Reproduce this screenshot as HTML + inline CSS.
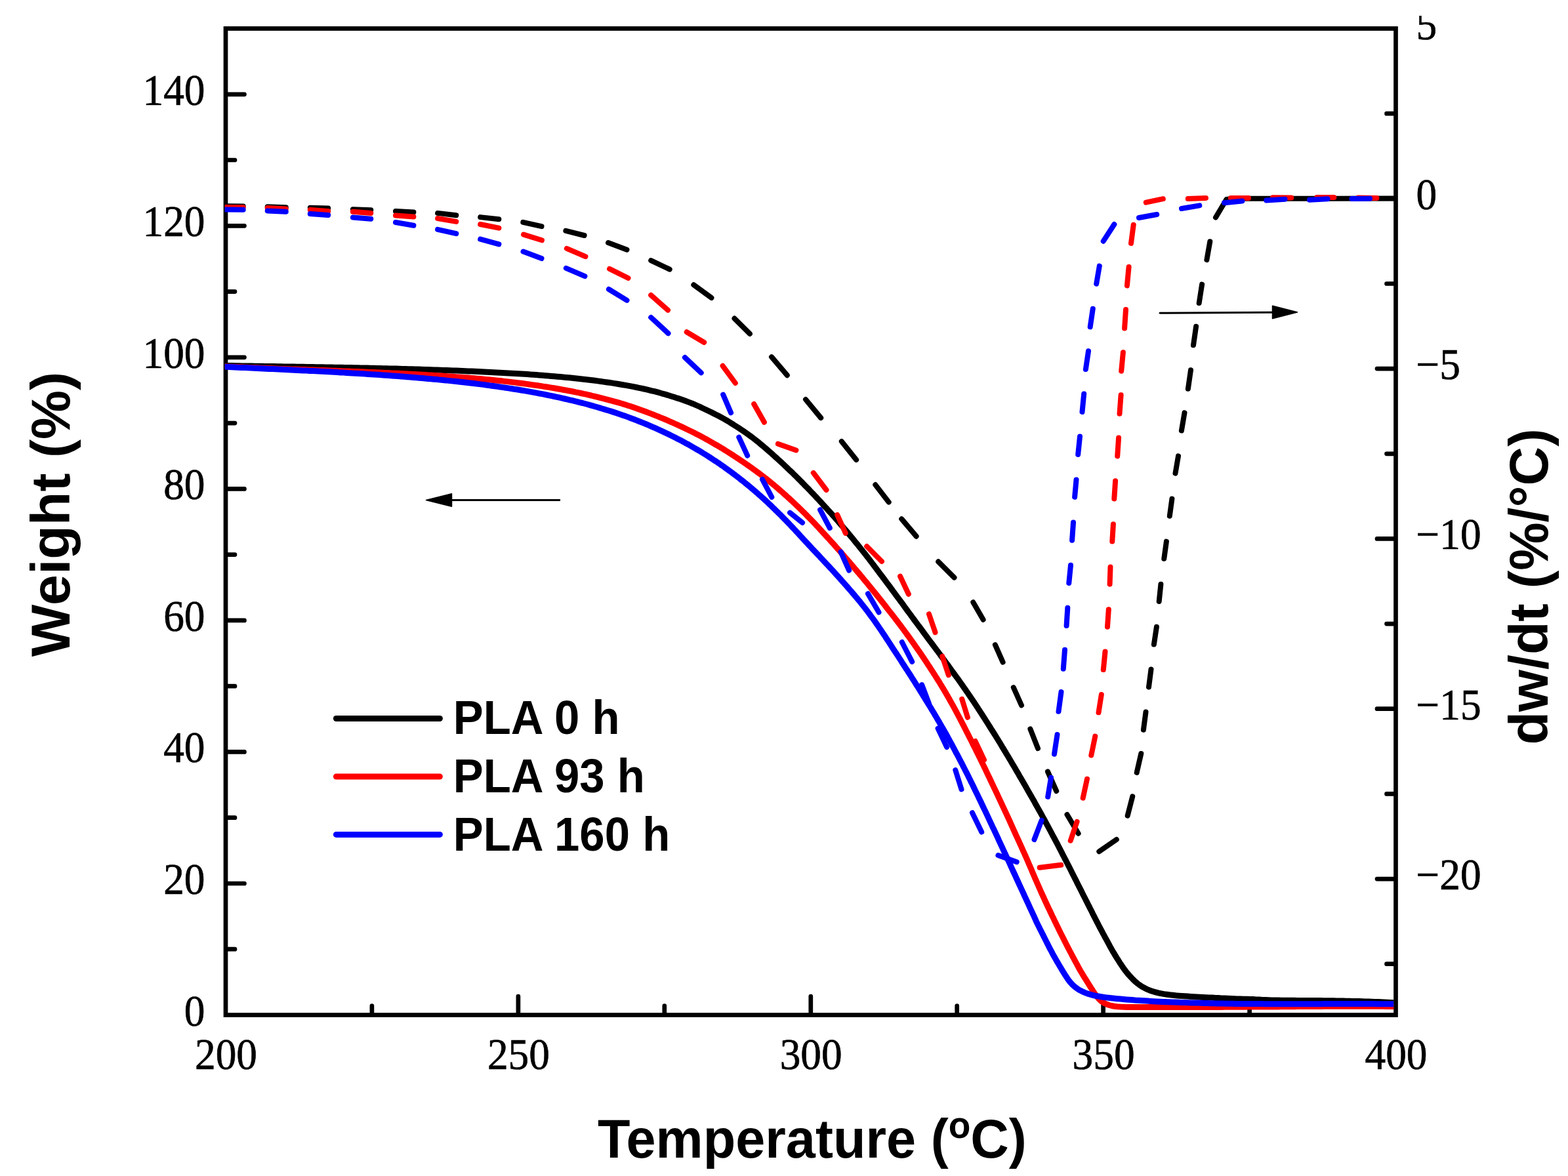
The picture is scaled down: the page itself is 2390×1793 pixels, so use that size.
<!DOCTYPE html>
<html lang="en"><head><meta charset="utf-8"><title>TGA and DTG curves of PLA</title>
<style>html,body{margin:0;padding:0;background:#fff}svg{display:block}.tk{font-family:"Liberation Serif","DejaVu Serif",serif;font-size:66.7px;fill:#000;stroke:#000;stroke-width:0.7px}.ti{font-family:"Liberation Sans","DejaVu Sans",sans-serif;font-weight:bold;font-size:83.3px;fill:#000}.lg{font-family:"Liberation Sans","DejaVu Sans",sans-serif;font-weight:bold;font-size:72.0px;fill:#000}</style></head><body>
<svg xmlns="http://www.w3.org/2000/svg" width="2390" height="1793" viewBox="0 0 2390 1793">
<defs><clipPath id="pc"><rect x="342.6" y="0" width="1781.7" height="1793"/></clipPath>
<clipPath id="tc"><rect x="0" y="24.0" width="2390" height="1793"/></clipPath></defs>
<rect x="0" y="0" width="2390" height="1793" fill="#fff"/>
<g stroke="#000" fill="none" stroke-width="6.7" stroke-linecap="round">
<rect x="344.0" y="43.5" width="1783.5" height="1504.0" stroke-linejoin="miter"/>
<path d="M345.0 1447.2h13.0M345.0 1347.0h27.5M345.0 1246.7h13.0M345.0 1146.4h27.5M345.0 1046.2h13.0M345.0 945.9h27.5M345.0 845.6h13.0M345.0 745.4h27.5M345.0 645.1h13.0M345.0 544.8h27.5M345.0 444.6h13.0M345.0 344.3h27.5M345.0 244.0h13.0M345.0 143.8h27.5M2126.5 173.2h-13.0M2126.5 302.8h-27.5M2126.5 432.5h-13.0M2126.5 562.1h-27.5M2126.5 691.8h-13.0M2126.5 821.4h-27.5M2126.5 951.1h-13.0M2126.5 1080.7h-27.5M2126.5 1210.4h-13.0M2126.5 1340.1h-27.5M2126.5 1469.7h-13.0M566.9 1546.5v-13.0M789.9 1546.5v-27.5M1012.8 1546.5v-13.0M1235.8 1546.5v-27.5M1458.7 1546.5v-13.0M1681.6 1546.5v-27.5M1904.6 1546.5v-13.0"/>
</g>
<g clip-path="url(#pc)" fill="none" stroke-linecap="round" stroke-linejoin="round">
<path stroke="#000" stroke-width="9" d="M344.0 557.5 L349.1 557.6 L354.1 557.6 L359.1 557.7 L364.0 557.8 L368.9 557.9 L373.8 558.0 L378.7 558.0 L383.6 558.1 L388.5 558.2 L393.4 558.3 L398.4 558.3 L403.3 558.4 L408.2 558.5 L413.1 558.6 L418.0 558.6 L422.9 558.7 L427.8 558.8 L432.7 558.9 L437.6 558.9 L442.5 559.0 L447.4 559.1 L452.3 559.2 L457.3 559.3 L462.2 559.3 L467.1 559.4 L472.0 559.5 L476.9 559.6 L481.8 559.7 L486.7 559.7 L491.6 559.8 L496.5 559.9 L501.4 560.0 L506.3 560.1 L511.2 560.2 L516.1 560.3 L521.0 560.3 L525.8 560.4 L530.7 560.5 L535.6 560.6 L540.5 560.7 L545.4 560.8 L550.3 560.9 L555.1 561.0 L560.0 561.1 L564.9 561.2 L569.8 561.3 L574.6 561.4 L579.5 561.5 L584.4 561.7 L589.2 561.8 L594.1 561.9 L598.9 562.0 L603.8 562.1 L608.6 562.3 L613.5 562.4 L618.3 562.5 L623.2 562.7 L628.0 562.8 L632.8 562.9 L637.7 563.1 L642.5 563.2 L647.3 563.4 L652.1 563.5 L656.9 563.7 L661.7 563.9 L666.5 564.0 L671.3 564.2 L676.1 564.4 L680.9 564.5 L685.7 564.7 L690.5 564.9 L695.2 565.1 L700.0 565.3 L704.7 565.5 L709.5 565.7 L714.3 565.9 L719.0 566.1 L723.8 566.3 L728.5 566.5 L733.3 566.7 L738.0 567.0 L742.7 567.2 L747.5 567.4 L752.2 567.7 L756.9 567.9 L761.6 568.2 L766.3 568.4 L771.0 568.7 L775.6 568.9 L780.3 569.2 L785.0 569.5 L789.7 569.7 L794.3 570.0 L799.0 570.3 L803.6 570.6 L808.3 570.9 L812.9 571.2 L817.5 571.6 L822.0 571.9 L826.6 572.3 L831.2 572.7 L835.7 573.0 L840.3 573.4 L844.8 573.8 L849.3 574.2 L853.8 574.6 L858.4 575.0 L862.9 575.4 L867.3 575.8 L871.8 576.3 L876.3 576.7 L880.7 577.2 L885.1 577.7 L889.5 578.2 L893.9 578.7 L898.3 579.2 L902.7 579.8 L907.0 580.3 L911.3 580.9 L915.6 581.5 L919.9 582.1 L924.2 582.7 L928.4 583.3 L932.6 583.9 L936.9 584.6 L941.0 585.3 L945.2 586.0 L949.4 586.7 L953.5 587.4 L957.6 588.1 L961.7 588.9 L965.7 589.7 L969.8 590.5 L973.8 591.3 L977.8 592.2 L981.7 593.0 L985.7 593.9 L989.6 594.8 L993.4 595.8 L997.3 596.7 L1001.1 597.7 L1004.9 598.7 L1008.6 599.8 L1012.4 600.8 L1016.0 601.9 L1019.7 603.0 L1023.4 604.2 L1027.0 605.3 L1030.6 606.5 L1034.2 607.6 L1037.8 608.8 L1041.3 610.0 L1044.8 611.3 L1048.3 612.6 L1051.7 613.9 L1055.1 615.2 L1058.5 616.6 L1061.7 618.0 L1065.0 619.5 L1068.2 620.9 L1071.4 622.5 L1074.6 624.0 L1077.8 625.5 L1080.9 627.0 L1084.1 628.6 L1087.2 630.1 L1090.4 631.7 L1093.5 633.2 L1096.5 634.8 L1099.6 636.5 L1102.6 638.1 L1105.6 639.8 L1108.5 641.5 L1111.4 643.3 L1114.3 645.1 L1117.1 646.9 L1120.0 648.7 L1122.8 650.5 L1125.6 652.3 L1128.4 654.1 L1131.2 656.0 L1133.9 657.8 L1136.7 659.7 L1139.4 661.6 L1142.1 663.6 L1144.7 665.5 L1147.4 667.5 L1150.0 669.5 L1152.5 671.5 L1155.1 673.6 L1157.6 675.6 L1160.1 677.7 L1162.6 679.8 L1165.1 681.9 L1167.6 684.0 L1170.0 686.1 L1172.4 688.3 L1174.9 690.4 L1177.3 692.5 L1179.7 694.7 L1182.1 696.9 L1184.5 699.0 L1186.9 701.2 L1189.3 703.4 L1191.6 705.6 L1194.0 707.8 L1196.3 710.0 L1198.7 712.2 L1201.0 714.5 L1203.3 716.7 L1205.7 718.9 L1208.0 721.1 L1210.3 723.4 L1212.6 725.6 L1214.9 727.9 L1217.2 730.2 L1219.4 732.4 L1221.7 734.7 L1224.0 737.0 L1226.2 739.3 L1228.4 741.6 L1230.7 743.9 L1232.9 746.2 L1235.1 748.5 L1237.3 750.8 L1239.6 753.2 L1241.8 755.5 L1244.0 757.8 L1246.1 760.2 L1248.3 762.5 L1250.5 764.9 L1252.7 767.2 L1254.8 769.6 L1257.0 772.0 L1259.2 774.3 L1261.3 776.7 L1263.5 779.1 L1265.6 781.4 L1267.8 783.8 L1269.9 786.2 L1272.0 788.6 L1274.1 791.0 L1276.2 793.4 L1278.3 795.9 L1280.4 798.3 L1282.5 800.7 L1284.6 803.2 L1286.6 805.6 L1288.7 808.0 L1290.8 810.5 L1292.8 812.9 L1294.9 815.4 L1296.9 817.9 L1299.0 820.3 L1301.0 822.8 L1303.0 825.3 L1305.1 827.8 L1307.1 830.2 L1309.1 832.7 L1311.1 835.2 L1313.1 837.7 L1315.1 840.2 L1317.1 842.7 L1319.1 845.2 L1321.0 847.8 L1323.0 850.3 L1325.0 852.8 L1326.9 855.4 L1328.8 857.9 L1330.8 860.5 L1332.7 863.0 L1334.6 865.6 L1336.6 868.2 L1338.5 870.7 L1340.4 873.3 L1342.3 875.9 L1344.3 878.4 L1346.2 881.0 L1348.1 883.5 L1350.0 886.1 L1351.9 888.7 L1353.9 891.3 L1355.8 893.8 L1357.7 896.4 L1359.6 899.0 L1361.5 901.6 L1363.4 904.2 L1365.3 906.7 L1367.2 909.3 L1369.1 911.9 L1371.0 914.4 L1372.9 917.0 L1374.9 919.6 L1376.8 922.2 L1378.6 924.8 L1380.5 927.4 L1382.4 930.0 L1384.3 932.6 L1386.2 935.1 L1388.1 937.7 L1390.0 940.3 L1391.9 942.9 L1393.8 945.5 L1395.7 948.1 L1397.6 950.6 L1399.5 953.2 L1401.5 955.8 L1403.4 958.3 L1405.3 960.9 L1407.2 963.5 L1409.1 966.1 L1411.0 968.7 L1412.9 971.2 L1414.8 973.8 L1416.7 976.4 L1418.6 978.9 L1420.6 981.5 L1422.5 984.1 L1424.4 986.6 L1426.3 989.2 L1428.2 991.8 L1430.2 994.3 L1432.1 996.9 L1434.0 999.5 L1435.9 1002.1 L1437.8 1004.7 L1439.7 1007.2 L1441.6 1009.8 L1443.5 1012.4 L1445.4 1015.0 L1447.3 1017.6 L1449.1 1020.2 L1451.0 1022.8 L1452.9 1025.4 L1454.8 1028.0 L1456.7 1030.6 L1458.6 1033.1 L1460.5 1035.7 L1462.3 1038.3 L1464.2 1041.0 L1466.1 1043.6 L1467.9 1046.2 L1469.7 1048.9 L1471.6 1051.5 L1473.4 1054.2 L1475.2 1056.8 L1477.0 1059.5 L1478.8 1062.1 L1480.6 1064.8 L1482.4 1067.4 L1484.2 1070.1 L1486.0 1072.8 L1487.8 1075.5 L1489.6 1078.2 L1491.3 1080.9 L1493.1 1083.6 L1494.8 1086.3 L1496.6 1089.0 L1498.3 1091.7 L1500.1 1094.4 L1501.8 1097.1 L1503.5 1099.8 L1505.3 1102.6 L1507.0 1105.3 L1508.7 1108.0 L1510.4 1110.8 L1512.1 1113.5 L1513.9 1116.3 L1515.6 1119.0 L1517.3 1121.7 L1519.0 1124.5 L1520.7 1127.2 L1522.4 1130.0 L1524.1 1132.7 L1525.8 1135.5 L1527.4 1138.3 L1529.1 1141.0 L1530.8 1143.8 L1532.5 1146.6 L1534.1 1149.4 L1535.8 1152.1 L1537.5 1154.9 L1539.1 1157.7 L1540.8 1160.5 L1542.4 1163.3 L1544.1 1166.1 L1545.7 1168.8 L1547.4 1171.6 L1549.0 1174.5 L1550.7 1177.3 L1552.3 1180.1 L1553.9 1182.9 L1555.5 1185.7 L1557.2 1188.5 L1558.8 1191.3 L1560.4 1194.1 L1562.1 1196.9 L1563.7 1199.7 L1565.3 1202.6 L1566.9 1205.4 L1568.5 1208.2 L1570.1 1211.0 L1571.7 1213.8 L1573.4 1216.7 L1575.0 1219.5 L1576.6 1222.3 L1578.1 1225.2 L1579.7 1228.0 L1581.3 1230.9 L1582.9 1233.7 L1584.5 1236.5 L1586.1 1239.4 L1587.7 1242.2 L1589.2 1245.1 L1590.8 1248.0 L1592.4 1250.8 L1593.9 1253.7 L1595.5 1256.6 L1597.0 1259.4 L1598.6 1262.3 L1600.1 1265.2 L1601.7 1268.1 L1603.2 1271.0 L1604.7 1273.9 L1606.3 1276.7 L1607.8 1279.6 L1609.3 1282.5 L1610.9 1285.4 L1612.4 1288.3 L1613.9 1291.2 L1615.4 1294.1 L1616.9 1297.0 L1618.4 1299.9 L1619.9 1302.9 L1621.4 1305.8 L1622.9 1308.7 L1624.4 1311.6 L1625.9 1314.5 L1627.4 1317.5 L1628.9 1320.4 L1630.4 1323.3 L1631.9 1326.2 L1633.4 1329.2 L1634.8 1332.1 L1636.3 1335.0 L1637.8 1338.0 L1639.3 1340.9 L1640.8 1343.8 L1642.2 1346.8 L1643.7 1349.7 L1645.2 1352.6 L1646.7 1355.6 L1648.2 1358.5 L1649.6 1361.4 L1651.1 1364.4 L1652.6 1367.3 L1654.1 1370.2 L1655.6 1373.2 L1657.1 1376.1 L1658.5 1379.0 L1660.0 1381.9 L1661.5 1384.9 L1663.0 1387.8 L1664.5 1390.8 L1665.9 1393.7 L1667.4 1396.6 L1668.9 1399.6 L1670.4 1402.5 L1671.9 1405.4 L1673.4 1408.3 L1674.9 1411.2 L1676.4 1414.1 L1677.9 1417.0 L1679.5 1419.9 L1681.0 1422.8 L1682.6 1425.7 L1684.1 1428.5 L1685.7 1431.4 L1687.3 1434.2 L1688.8 1437.1 L1690.4 1440.0 L1691.9 1442.9 L1693.5 1445.7 L1695.1 1448.6 L1696.7 1451.4 L1698.4 1454.2 L1700.0 1456.9 L1701.7 1459.7 L1703.5 1462.4 L1705.2 1465.2 L1706.9 1467.9 L1708.7 1470.6 L1710.5 1473.3 L1712.3 1475.9 L1714.2 1478.5 L1716.1 1481.0 L1718.1 1483.5 L1720.2 1486.0 L1722.3 1488.4 L1724.5 1490.7 L1726.7 1493.0 L1729.0 1495.3 L1731.4 1497.4 L1733.9 1499.5 L1736.6 1501.5 L1739.3 1503.4 L1742.2 1505.1 L1745.3 1506.7 L1748.4 1508.3 L1751.8 1509.7 L1755.2 1510.9 L1758.8 1512.1 L1762.6 1513.1 L1766.5 1514.1 L1770.5 1514.9 L1774.6 1515.6 L1778.9 1516.2 L1783.2 1516.8 L1787.6 1517.3 L1792.0 1517.8 L1796.6 1518.2 L1801.2 1518.5 L1805.8 1518.8 L1810.5 1519.1 L1815.1 1519.4 L1819.7 1519.7 L1824.4 1520.0 L1829.1 1520.2 L1833.8 1520.5 L1838.5 1520.7 L1843.3 1520.9 L1848.0 1521.1 L1852.7 1521.4 L1857.4 1521.6 L1862.1 1521.9 L1866.8 1522.1 L1871.5 1522.3 L1876.3 1522.6 L1881.0 1522.8 L1885.8 1523.0 L1890.6 1523.1 L1895.5 1523.3 L1900.3 1523.3 L1905.2 1523.5 L1910.0 1523.6 L1914.7 1523.9 L1919.4 1524.1 L1924.1 1524.4 L1928.9 1524.6 L1933.7 1524.8 L1938.5 1524.9 L1943.4 1525.0 L1948.3 1525.1 L1953.2 1525.2 L1958.1 1525.2 L1963.1 1525.2 L1968.0 1525.3 L1973.0 1525.3 L1977.9 1525.4 L1982.9 1525.4 L1987.9 1525.4 L1992.8 1525.5 L1997.8 1525.5 L2002.7 1525.5 L2007.7 1525.6 L2012.6 1525.6 L2017.6 1525.7 L2022.5 1525.7 L2027.4 1525.8 L2032.3 1525.8 L2037.3 1525.9 L2042.2 1526.0 L2047.1 1526.1 L2052.0 1526.2 L2056.8 1526.3 L2061.7 1526.4 L2066.6 1526.5 L2071.4 1526.6 L2076.2 1526.8 L2081.1 1526.9 L2085.9 1527.1 L2090.7 1527.2 L2095.5 1527.4 L2100.2 1527.6 L2105.0 1527.8 L2109.7 1528.0 L2114.4 1528.2 L2118.9 1528.5 L2123.3 1528.7 L2127.5 1528.9"/>
<path stroke="#f00" stroke-width="9" d="M344.0 558.7 L348.8 558.9 L353.6 559.2 L358.4 559.4 L363.2 559.6 L367.9 559.8 L372.7 560.0 L377.4 560.2 L382.2 560.4 L386.9 560.6 L391.7 560.8 L396.4 561.0 L401.2 561.2 L406.0 561.4 L410.7 561.6 L415.5 561.8 L420.3 562.0 L425.1 562.2 L429.9 562.4 L434.6 562.5 L439.4 562.7 L444.2 562.9 L449.0 563.1 L453.8 563.2 L458.6 563.4 L463.4 563.6 L468.2 563.8 L473.0 563.9 L477.7 564.1 L482.5 564.3 L487.3 564.5 L492.1 564.6 L496.9 564.8 L501.7 565.0 L506.5 565.2 L511.3 565.3 L516.1 565.5 L520.8 565.7 L525.6 565.9 L530.4 566.1 L535.2 566.2 L540.0 566.4 L544.7 566.6 L549.5 566.8 L554.3 567.0 L559.1 567.2 L563.8 567.4 L568.6 567.6 L573.3 567.8 L578.1 568.0 L582.8 568.2 L587.6 568.4 L592.3 568.6 L597.0 568.9 L601.8 569.1 L606.5 569.3 L611.2 569.5 L615.9 569.8 L620.6 570.0 L625.4 570.3 L630.0 570.5 L634.7 570.8 L639.4 571.0 L644.1 571.3 L648.8 571.6 L653.4 571.9 L658.1 572.1 L662.8 572.4 L667.4 572.7 L672.0 573.0 L676.7 573.3 L681.3 573.7 L685.9 574.0 L690.5 574.3 L695.1 574.7 L699.7 575.0 L704.3 575.3 L708.8 575.7 L713.4 576.1 L718.0 576.4 L722.5 576.8 L727.0 577.2 L731.6 577.6 L736.1 578.0 L740.6 578.4 L745.1 578.8 L749.6 579.3 L754.0 579.7 L758.5 580.2 L762.9 580.6 L767.4 581.1 L771.8 581.6 L776.2 582.1 L780.5 582.6 L784.9 583.1 L789.3 583.7 L793.6 584.2 L797.9 584.8 L802.2 585.4 L806.5 586.0 L810.8 586.6 L815.1 587.2 L819.3 587.8 L823.6 588.4 L827.8 589.1 L832.0 589.7 L836.2 590.4 L840.4 591.1 L844.5 591.8 L848.7 592.5 L852.8 593.2 L856.9 594.0 L861.0 594.7 L865.1 595.5 L869.2 596.2 L873.2 597.0 L877.2 597.9 L881.2 598.7 L885.2 599.5 L889.2 600.4 L893.2 601.2 L897.1 602.1 L901.0 603.0 L904.9 604.0 L908.8 604.9 L912.6 605.9 L916.5 606.9 L920.3 607.8 L924.1 608.8 L927.9 609.8 L931.7 610.8 L935.4 611.9 L939.2 612.9 L942.9 613.9 L946.7 615.0 L950.3 616.1 L954.0 617.2 L957.6 618.4 L961.2 619.6 L964.8 620.8 L968.3 622.0 L971.8 623.2 L975.3 624.5 L978.8 625.7 L982.3 627.0 L985.7 628.3 L989.2 629.6 L992.6 630.9 L996.0 632.2 L999.4 633.6 L1002.8 634.9 L1006.1 636.3 L1009.5 637.7 L1012.8 639.0 L1016.1 640.4 L1019.4 641.9 L1022.7 643.3 L1026.0 644.7 L1029.2 646.2 L1032.5 647.7 L1035.7 649.2 L1038.9 650.6 L1042.1 652.1 L1045.3 653.7 L1048.5 655.2 L1051.6 656.7 L1054.8 658.2 L1057.9 659.8 L1061.0 661.4 L1064.1 663.0 L1067.2 664.6 L1070.2 666.2 L1073.2 667.9 L1076.2 669.5 L1079.2 671.2 L1082.2 672.9 L1085.2 674.6 L1088.2 676.3 L1091.1 678.0 L1094.0 679.7 L1097.0 681.4 L1099.9 683.2 L1102.8 684.9 L1105.6 686.7 L1108.5 688.5 L1111.3 690.3 L1114.2 692.1 L1117.0 693.9 L1119.8 695.7 L1122.6 697.6 L1125.4 699.4 L1128.1 701.3 L1130.9 703.1 L1133.7 705.0 L1136.4 706.9 L1139.1 708.8 L1141.9 710.7 L1144.6 712.6 L1147.2 714.5 L1149.9 716.5 L1152.6 718.4 L1155.2 720.4 L1157.9 722.3 L1160.5 724.3 L1163.1 726.3 L1165.7 728.3 L1168.3 730.3 L1170.8 732.4 L1173.4 734.4 L1175.9 736.5 L1178.4 738.5 L1180.9 740.6 L1183.4 742.7 L1185.9 744.9 L1188.3 747.0 L1190.8 749.1 L1193.2 751.2 L1195.6 753.4 L1198.0 755.5 L1200.4 757.7 L1202.8 759.9 L1205.2 762.1 L1207.6 764.3 L1209.9 766.5 L1212.3 768.7 L1214.6 770.9 L1216.9 773.1 L1219.2 775.4 L1221.5 777.6 L1223.8 779.9 L1226.1 782.1 L1228.4 784.4 L1230.6 786.7 L1232.9 789.0 L1235.1 791.3 L1237.4 793.6 L1239.6 795.9 L1241.8 798.2 L1244.0 800.6 L1246.2 802.9 L1248.4 805.3 L1250.5 807.6 L1252.7 810.0 L1254.8 812.4 L1257.0 814.7 L1259.2 817.1 L1261.3 819.4 L1263.5 821.8 L1265.7 824.2 L1267.8 826.6 L1270.0 828.9 L1272.1 831.3 L1274.2 833.7 L1276.3 836.1 L1278.5 838.5 L1280.6 840.9 L1282.7 843.3 L1284.8 845.7 L1286.9 848.2 L1289.0 850.6 L1291.1 853.0 L1293.2 855.4 L1295.3 857.8 L1297.3 860.3 L1299.4 862.7 L1301.5 865.2 L1303.6 867.6 L1305.6 870.0 L1307.7 872.5 L1309.8 874.9 L1311.8 877.4 L1313.9 879.8 L1315.9 882.3 L1318.0 884.8 L1320.0 887.2 L1322.1 889.7 L1324.1 892.2 L1326.1 894.6 L1328.1 897.1 L1330.1 899.6 L1332.2 902.1 L1334.2 904.6 L1336.2 907.1 L1338.2 909.6 L1340.2 912.1 L1342.2 914.6 L1344.2 917.1 L1346.2 919.6 L1348.1 922.1 L1350.1 924.6 L1352.1 927.2 L1354.0 929.7 L1356.0 932.2 L1358.0 934.7 L1360.0 937.3 L1361.9 939.8 L1363.9 942.3 L1365.8 944.9 L1367.8 947.4 L1369.7 950.0 L1371.7 952.5 L1373.6 955.1 L1375.5 957.6 L1377.4 960.2 L1379.3 962.8 L1381.2 965.4 L1383.1 968.0 L1385.0 970.5 L1386.9 973.1 L1388.8 975.8 L1390.6 978.4 L1392.5 981.0 L1394.3 983.6 L1396.2 986.3 L1398.0 988.9 L1399.8 991.5 L1401.7 994.2 L1403.5 996.8 L1405.3 999.5 L1407.1 1002.1 L1408.9 1004.8 L1410.7 1007.5 L1412.5 1010.2 L1414.2 1012.9 L1416.0 1015.6 L1417.8 1018.3 L1419.5 1021.0 L1421.3 1023.7 L1423.0 1026.4 L1424.8 1029.1 L1426.5 1031.8 L1428.2 1034.5 L1429.9 1037.3 L1431.7 1040.0 L1433.3 1042.8 L1435.0 1045.5 L1436.7 1048.3 L1438.4 1051.1 L1440.0 1053.9 L1441.7 1056.7 L1443.3 1059.5 L1444.9 1062.3 L1446.5 1065.1 L1448.1 1068.0 L1449.7 1070.8 L1451.3 1073.7 L1452.9 1076.5 L1454.5 1079.4 L1456.0 1082.2 L1457.6 1085.1 L1459.1 1088.0 L1460.6 1090.9 L1462.2 1093.8 L1463.7 1096.7 L1465.2 1099.6 L1466.7 1102.5 L1468.2 1105.4 L1469.7 1108.3 L1471.2 1111.2 L1472.7 1114.2 L1474.2 1117.1 L1475.7 1120.0 L1477.1 1123.0 L1478.6 1125.9 L1480.1 1128.8 L1481.6 1131.8 L1483.0 1134.7 L1484.5 1137.6 L1486.0 1140.6 L1487.5 1143.5 L1488.9 1146.5 L1490.4 1149.4 L1491.8 1152.4 L1493.3 1155.3 L1494.8 1158.3 L1496.2 1161.2 L1497.7 1164.2 L1499.1 1167.1 L1500.5 1170.1 L1502.0 1173.1 L1503.4 1176.1 L1504.8 1179.1 L1506.2 1182.0 L1507.7 1185.0 L1509.1 1188.0 L1510.5 1191.0 L1511.9 1194.0 L1513.3 1196.9 L1514.7 1199.9 L1516.2 1202.9 L1517.6 1205.9 L1519.0 1208.9 L1520.4 1211.9 L1521.8 1214.9 L1523.2 1217.9 L1524.6 1220.9 L1526.0 1223.9 L1527.4 1226.9 L1528.8 1229.9 L1530.2 1232.9 L1531.6 1235.9 L1533.0 1238.9 L1534.4 1241.9 L1535.8 1244.9 L1537.2 1247.9 L1538.6 1250.9 L1539.9 1253.9 L1541.3 1257.0 L1542.7 1260.0 L1544.0 1263.0 L1545.4 1266.1 L1546.8 1269.1 L1548.1 1272.1 L1549.5 1275.1 L1550.9 1278.1 L1552.3 1281.2 L1553.7 1284.2 L1555.0 1287.2 L1556.4 1290.2 L1557.8 1293.3 L1559.1 1296.3 L1560.5 1299.3 L1561.9 1302.3 L1563.2 1305.4 L1564.6 1308.4 L1565.9 1311.5 L1567.2 1314.5 L1568.5 1317.6 L1569.9 1320.7 L1571.2 1323.8 L1572.5 1326.8 L1573.8 1329.9 L1575.1 1333.0 L1576.4 1336.1 L1577.7 1339.1 L1579.1 1342.2 L1580.4 1345.2 L1581.8 1348.3 L1583.1 1351.3 L1584.4 1354.4 L1585.8 1357.4 L1587.1 1360.5 L1588.5 1363.5 L1589.9 1366.5 L1591.3 1369.5 L1592.6 1372.5 L1594.0 1375.5 L1595.4 1378.5 L1596.8 1381.5 L1598.2 1384.5 L1599.7 1387.5 L1601.1 1390.5 L1602.5 1393.5 L1603.9 1396.5 L1605.4 1399.4 L1606.8 1402.4 L1608.2 1405.4 L1609.7 1408.3 L1611.1 1411.3 L1612.6 1414.3 L1614.0 1417.2 L1615.5 1420.2 L1616.9 1423.1 L1618.4 1426.1 L1619.9 1429.0 L1621.4 1431.9 L1622.8 1434.9 L1624.3 1437.8 L1625.8 1440.7 L1627.3 1443.6 L1628.8 1446.5 L1630.3 1449.4 L1631.9 1452.3 L1633.4 1455.2 L1634.9 1458.1 L1636.5 1461.0 L1638.0 1463.9 L1639.6 1466.8 L1641.1 1469.6 L1642.7 1472.5 L1644.2 1475.4 L1645.8 1478.2 L1647.4 1481.0 L1649.1 1483.8 L1650.7 1486.6 L1652.4 1489.4 L1654.1 1492.1 L1655.9 1494.8 L1657.6 1497.6 L1659.3 1500.3 L1661.0 1503.0 L1662.7 1505.8 L1664.5 1508.5 L1666.2 1511.2 L1668.0 1513.9 L1669.8 1516.5 L1671.7 1519.1 L1673.8 1521.6 L1675.9 1523.9 L1678.3 1526.1 L1681.0 1528.1 L1683.9 1529.8 L1687.1 1531.3 L1690.7 1532.5 L1694.5 1533.5 L1698.6 1534.2 L1703.0 1534.7 L1707.5 1535.1 L1712.3 1535.3 L1717.1 1535.5 L1722.1 1535.5 L1727.0 1535.6 L1732.0 1535.6 L1737.0 1535.6 L1742.0 1535.6 L1747.0 1535.6 L1752.1 1535.5 L1757.1 1535.5 L1762.1 1535.5 L1767.1 1535.5 L1772.1 1535.5 L1777.1 1535.5 L1782.1 1535.5 L1787.2 1535.4 L1792.2 1535.4 L1797.2 1535.4 L1802.2 1535.4 L1807.2 1535.4 L1812.2 1535.4 L1817.2 1535.4 L1822.2 1535.4 L1827.2 1535.4 L1832.2 1535.4 L1837.2 1535.4 L1842.2 1535.4 L1847.2 1535.4 L1852.2 1535.4 L1857.2 1535.4 L1862.2 1535.4 L1867.3 1535.3 L1872.3 1535.3 L1877.3 1535.3 L1882.4 1535.2 L1887.4 1535.2 L1892.5 1535.2 L1897.5 1535.2 L1902.5 1535.1 L1907.5 1535.1 L1912.6 1535.1 L1917.6 1535.1 L1922.6 1535.1 L1927.6 1535.0 L1932.7 1535.0 L1937.7 1535.0 L1942.8 1534.9 L1947.8 1534.9 L1952.9 1534.8 L1957.9 1534.8 L1963.0 1534.7 L1968.0 1534.7 L1973.1 1534.7 L1978.1 1534.6 L1983.2 1534.6 L1988.2 1534.5 L1993.3 1534.5 L1998.3 1534.5 L2003.4 1534.4 L2008.4 1534.4 L2013.4 1534.4 L2018.5 1534.3 L2023.5 1534.3 L2028.5 1534.3 L2033.6 1534.3 L2038.6 1534.3 L2043.6 1534.2 L2048.6 1534.2 L2053.6 1534.2 L2058.6 1534.2 L2063.6 1534.2 L2068.6 1534.2 L2073.6 1534.2 L2078.6 1534.2 L2083.6 1534.2 L2088.6 1534.2 L2093.6 1534.3 L2098.5 1534.3 L2103.5 1534.3 L2108.5 1534.3 L2113.4 1534.4 L2118.2 1534.4 L2122.9 1534.4 L2127.5 1534.5"/>
<path stroke="#00f" stroke-width="9" d="M344.0 559.3 L348.8 559.5 L353.6 559.7 L358.3 560.0 L363.1 560.2 L367.8 560.4 L372.5 560.6 L377.3 560.8 L382.0 561.1 L386.7 561.3 L391.5 561.5 L396.2 561.7 L400.9 561.9 L405.7 562.2 L410.4 562.4 L415.1 562.6 L419.9 562.8 L424.6 563.1 L429.3 563.3 L434.1 563.5 L438.8 563.7 L443.5 564.0 L448.3 564.2 L453.0 564.4 L457.7 564.7 L462.4 564.9 L467.1 565.1 L471.8 565.4 L476.6 565.6 L481.3 565.8 L486.0 566.1 L490.7 566.3 L495.4 566.6 L500.1 566.8 L504.8 567.1 L509.5 567.3 L514.2 567.6 L518.8 567.9 L523.5 568.1 L528.2 568.4 L532.9 568.7 L537.5 569.0 L542.2 569.2 L546.9 569.5 L551.5 569.8 L556.2 570.1 L560.8 570.4 L565.4 570.7 L570.1 571.0 L574.7 571.3 L579.3 571.6 L584.0 571.9 L588.6 572.3 L593.2 572.6 L597.8 572.9 L602.4 573.3 L606.9 573.6 L611.5 574.0 L616.1 574.3 L620.7 574.7 L625.2 575.0 L629.8 575.4 L634.3 575.8 L638.9 576.2 L643.4 576.6 L647.9 577.0 L652.4 577.4 L656.9 577.8 L661.4 578.2 L665.9 578.6 L670.4 579.1 L674.9 579.5 L679.4 579.9 L683.8 580.4 L688.3 580.9 L692.7 581.3 L697.1 581.8 L701.5 582.3 L706.0 582.8 L710.4 583.3 L714.7 583.8 L719.1 584.3 L723.5 584.8 L727.9 585.4 L732.2 585.9 L736.5 586.4 L740.9 587.0 L745.2 587.6 L749.5 588.2 L753.8 588.8 L758.1 589.4 L762.3 590.0 L766.6 590.6 L770.8 591.2 L775.1 591.9 L779.3 592.5 L783.5 593.2 L787.7 593.8 L791.9 594.5 L796.0 595.2 L800.2 595.9 L804.3 596.6 L808.4 597.4 L812.5 598.1 L816.6 598.9 L820.7 599.7 L824.8 600.4 L828.8 601.2 L832.9 602.0 L836.9 602.8 L840.9 603.6 L844.9 604.5 L848.9 605.3 L852.9 606.2 L856.8 607.1 L860.7 608.0 L864.6 608.9 L868.5 609.8 L872.4 610.7 L876.3 611.7 L880.2 612.6 L884.0 613.6 L887.8 614.5 L891.6 615.5 L895.4 616.5 L899.2 617.6 L902.9 618.6 L906.7 619.7 L910.4 620.8 L914.0 621.9 L917.7 623.0 L921.4 624.1 L925.1 625.2 L928.7 626.3 L932.3 627.4 L936.0 628.6 L939.6 629.8 L943.1 631.0 L946.7 632.2 L950.2 633.4 L953.7 634.6 L957.2 635.9 L960.6 637.2 L964.1 638.5 L967.5 639.8 L970.9 641.1 L974.3 642.5 L977.7 643.8 L981.1 645.2 L984.4 646.5 L987.8 647.9 L991.1 649.3 L994.4 650.8 L997.6 652.2 L1000.9 653.7 L1004.1 655.1 L1007.4 656.6 L1010.6 658.1 L1013.8 659.6 L1017.0 661.1 L1020.1 662.6 L1023.3 664.2 L1026.4 665.7 L1029.5 667.3 L1032.6 668.9 L1035.7 670.5 L1038.8 672.1 L1041.8 673.7 L1044.8 675.4 L1047.9 677.0 L1050.9 678.7 L1053.8 680.4 L1056.8 682.1 L1059.8 683.8 L1062.7 685.5 L1065.6 687.2 L1068.5 688.9 L1071.4 690.7 L1074.3 692.5 L1077.2 694.3 L1080.0 696.1 L1082.8 697.9 L1085.6 699.7 L1088.4 701.6 L1091.2 703.4 L1094.0 705.3 L1096.7 707.1 L1099.4 709.0 L1102.2 710.9 L1104.9 712.8 L1107.6 714.8 L1110.3 716.7 L1112.9 718.6 L1115.6 720.6 L1118.2 722.6 L1120.8 724.5 L1123.4 726.5 L1126.0 728.5 L1128.6 730.6 L1131.2 732.6 L1133.7 734.6 L1136.3 736.7 L1138.8 738.7 L1141.3 740.8 L1143.8 742.9 L1146.3 745.0 L1148.8 747.1 L1151.3 749.2 L1153.7 751.3 L1156.1 753.5 L1158.6 755.6 L1161.0 757.8 L1163.4 759.9 L1165.8 762.1 L1168.1 764.3 L1170.5 766.5 L1172.8 768.7 L1175.2 770.9 L1177.5 773.2 L1179.8 775.4 L1182.1 777.7 L1184.4 779.9 L1186.7 782.2 L1189.0 784.4 L1191.2 786.7 L1193.5 789.0 L1195.7 791.3 L1198.0 793.6 L1200.2 795.9 L1202.4 798.2 L1204.6 800.5 L1206.8 802.9 L1209.0 805.2 L1211.2 807.5 L1213.4 809.9 L1215.6 812.3 L1217.8 814.6 L1219.9 817.0 L1222.1 819.3 L1224.3 821.7 L1226.4 824.0 L1228.6 826.4 L1230.8 828.7 L1233.0 831.1 L1235.2 833.4 L1237.3 835.8 L1239.5 838.1 L1241.7 840.4 L1243.9 842.8 L1246.2 845.1 L1248.4 847.4 L1250.5 849.8 L1252.7 852.1 L1254.9 854.5 L1257.1 856.8 L1259.3 859.2 L1261.5 861.5 L1263.7 863.9 L1265.8 866.2 L1268.0 868.5 L1270.2 870.9 L1272.3 873.3 L1274.5 875.7 L1276.6 878.0 L1278.8 880.4 L1280.9 882.8 L1283.0 885.2 L1285.2 887.6 L1287.3 890.0 L1289.4 892.4 L1291.5 894.8 L1293.6 897.2 L1295.7 899.6 L1297.8 902.0 L1299.9 904.5 L1302.0 906.9 L1304.0 909.4 L1306.1 911.8 L1308.2 914.3 L1310.2 916.7 L1312.2 919.2 L1314.2 921.7 L1316.2 924.2 L1318.2 926.7 L1320.1 929.3 L1322.1 931.8 L1324.0 934.4 L1325.9 937.0 L1327.8 939.6 L1329.7 942.1 L1331.6 944.7 L1333.5 947.3 L1335.3 950.0 L1337.2 952.6 L1339.0 955.2 L1340.8 957.9 L1342.6 960.5 L1344.4 963.2 L1346.2 965.9 L1348.0 968.6 L1349.8 971.3 L1351.5 974.0 L1353.3 976.6 L1355.1 979.4 L1356.8 982.1 L1358.6 984.8 L1360.3 987.5 L1362.1 990.2 L1363.9 992.9 L1365.6 995.5 L1367.4 998.2 L1369.2 1000.9 L1370.9 1003.6 L1372.7 1006.4 L1374.4 1009.1 L1376.1 1011.8 L1377.9 1014.5 L1379.6 1017.2 L1381.4 1019.9 L1383.2 1022.6 L1384.9 1025.3 L1386.7 1028.0 L1388.4 1030.7 L1390.1 1033.5 L1391.9 1036.2 L1393.6 1038.9 L1395.3 1041.6 L1397.0 1044.4 L1398.8 1047.1 L1400.5 1049.8 L1402.2 1052.6 L1403.9 1055.3 L1405.6 1058.0 L1407.3 1060.8 L1409.0 1063.5 L1410.7 1066.3 L1412.4 1069.0 L1414.1 1071.8 L1415.8 1074.6 L1417.5 1077.3 L1419.2 1080.1 L1420.8 1082.9 L1422.5 1085.6 L1424.2 1088.4 L1425.8 1091.2 L1427.5 1094.0 L1429.1 1096.8 L1430.8 1099.6 L1432.4 1102.4 L1434.0 1105.2 L1435.6 1108.0 L1437.3 1110.8 L1438.9 1113.7 L1440.5 1116.5 L1442.1 1119.3 L1443.7 1122.2 L1445.2 1125.0 L1446.8 1127.9 L1448.4 1130.8 L1449.9 1133.6 L1451.5 1136.5 L1453.0 1139.4 L1454.6 1142.3 L1456.1 1145.2 L1457.6 1148.0 L1459.2 1150.9 L1460.7 1153.8 L1462.2 1156.7 L1463.7 1159.6 L1465.2 1162.5 L1466.8 1165.4 L1468.2 1168.4 L1469.7 1171.3 L1471.2 1174.2 L1472.7 1177.1 L1474.2 1180.1 L1475.7 1183.0 L1477.1 1186.0 L1478.6 1188.9 L1480.0 1191.9 L1481.5 1194.8 L1483.0 1197.8 L1484.4 1200.7 L1485.8 1203.7 L1487.3 1206.7 L1488.7 1209.6 L1490.2 1212.6 L1491.6 1215.6 L1493.0 1218.5 L1494.5 1221.5 L1495.9 1224.5 L1497.3 1227.5 L1498.7 1230.5 L1500.1 1233.4 L1501.6 1236.4 L1503.0 1239.4 L1504.4 1242.4 L1505.8 1245.4 L1507.2 1248.4 L1508.6 1251.4 L1510.0 1254.4 L1511.4 1257.4 L1512.8 1260.4 L1514.3 1263.4 L1515.7 1266.4 L1517.1 1269.4 L1518.5 1272.4 L1519.9 1275.4 L1521.3 1278.4 L1522.6 1281.4 L1524.0 1284.4 L1525.4 1287.4 L1526.8 1290.4 L1528.2 1293.4 L1529.6 1296.4 L1531.0 1299.4 L1532.4 1302.4 L1533.8 1305.4 L1535.2 1308.4 L1536.6 1311.4 L1538.0 1314.4 L1539.4 1317.4 L1540.7 1320.4 L1542.1 1323.5 L1543.5 1326.5 L1544.9 1329.5 L1546.3 1332.5 L1547.7 1335.5 L1549.0 1338.5 L1550.4 1341.5 L1551.8 1344.5 L1553.2 1347.6 L1554.6 1350.6 L1556.0 1353.6 L1557.4 1356.6 L1558.8 1359.6 L1560.2 1362.6 L1561.5 1365.6 L1562.9 1368.6 L1564.3 1371.6 L1565.7 1374.7 L1567.1 1377.7 L1568.5 1380.7 L1569.8 1383.7 L1571.2 1386.7 L1572.6 1389.7 L1574.0 1392.7 L1575.4 1395.7 L1576.8 1398.7 L1578.2 1401.8 L1579.5 1404.8 L1580.9 1407.8 L1582.4 1410.7 L1583.9 1413.7 L1585.3 1416.6 L1586.8 1419.6 L1588.3 1422.5 L1589.8 1425.4 L1591.2 1428.4 L1592.7 1431.3 L1594.2 1434.2 L1595.7 1437.2 L1597.2 1440.1 L1598.6 1443.0 L1600.1 1446.0 L1601.7 1448.9 L1603.2 1451.7 L1604.7 1454.6 L1606.3 1457.5 L1607.9 1460.3 L1609.5 1463.2 L1611.1 1466.0 L1612.8 1468.7 L1614.4 1471.5 L1616.1 1474.3 L1617.7 1477.1 L1619.4 1479.9 L1621.1 1482.7 L1622.8 1485.4 L1624.5 1488.1 L1626.3 1490.8 L1628.1 1493.5 L1630.0 1496.0 L1632.1 1498.5 L1634.3 1500.9 L1636.6 1503.1 L1639.1 1505.2 L1641.7 1507.1 L1644.5 1509.0 L1647.5 1510.6 L1650.7 1512.2 L1654.0 1513.6 L1657.4 1514.9 L1661.0 1516.0 L1664.8 1517.1 L1668.7 1518.0 L1672.7 1518.8 L1676.9 1519.5 L1681.1 1520.2 L1685.3 1520.8 L1689.7 1521.3 L1694.1 1521.8 L1698.6 1522.3 L1703.0 1522.7 L1707.6 1523.1 L1712.1 1523.5 L1716.7 1523.9 L1721.2 1524.2 L1725.8 1524.5 L1730.4 1524.9 L1735.1 1525.2 L1739.7 1525.5 L1744.3 1525.8 L1748.9 1526.1 L1753.6 1526.4 L1758.2 1526.7 L1762.9 1527.0 L1767.6 1527.2 L1772.4 1527.4 L1777.2 1527.6 L1782.0 1527.8 L1786.7 1527.9 L1791.6 1528.1 L1796.4 1528.3 L1801.2 1528.4 L1806.0 1528.6 L1810.8 1528.7 L1815.6 1528.9 L1820.5 1529.0 L1825.3 1529.1 L1830.1 1529.3 L1835.0 1529.4 L1839.8 1529.5 L1844.7 1529.7 L1849.5 1529.8 L1854.4 1529.9 L1859.3 1530.0 L1864.2 1530.1 L1869.1 1530.2 L1874.0 1530.3 L1878.9 1530.3 L1883.8 1530.4 L1888.8 1530.4 L1893.7 1530.5 L1898.7 1530.5 L1903.6 1530.5 L1908.6 1530.5 L1913.6 1530.6 L1918.6 1530.6 L1923.5 1530.6 L1928.5 1530.7 L1933.5 1530.7 L1938.5 1530.7 L1943.4 1530.7 L1948.4 1530.7 L1953.4 1530.7 L1958.4 1530.7 L1963.4 1530.7 L1968.4 1530.7 L1973.4 1530.7 L1978.4 1530.7 L1983.4 1530.7 L1988.4 1530.7 L1993.5 1530.7 L1998.5 1530.7 L2003.5 1530.7 L2008.5 1530.7 L2013.5 1530.7 L2018.5 1530.6 L2023.5 1530.6 L2028.5 1530.6 L2033.5 1530.6 L2038.5 1530.6 L2043.6 1530.6 L2048.6 1530.6 L2053.6 1530.6 L2058.6 1530.6 L2063.6 1530.6 L2068.6 1530.6 L2073.6 1530.6 L2078.6 1530.6 L2083.5 1530.6 L2088.5 1530.6 L2093.5 1530.6 L2098.5 1530.7 L2103.5 1530.7 L2108.4 1530.7 L2113.3 1530.7 L2118.2 1530.8 L2122.9 1530.8 L2127.5 1530.8"/>
<path stroke="#000" stroke-width="8" d="M344.0 314.2L370.7 314.6 M407.7 315.3L435.8 316.3 M472.8 316.8L500.2 317.5 M537.9 319.2L565.3 320.2 M603.0 322.1L630.4 323.6 M667.1 324.9L695.3 328.2 M732.2 331.1L760.4 334.3 M797.3 338.8L825.5 345.1 M862.4 351.8L890.6 359.0 M927.0 370.1L955.5 380.8 M992.2 397.1L1020.7 410.7 M1057.3 434.3L1084.4 454.1 M1119.5 485.6L1142.9 508.9 M1176.0 544.2L1199.8 572.2 M1228.0 609.0L1251.2 637.1 M1282.8 673.0L1305.1 701.0 M1334.3 739.1L1354.7 765.6 M1374.2 791.2L1396.6 817.7 M1430.2 856.3L1454.5 880.6 M1483.3 918.2L1498.6 944.7 M1516.9 983.1L1528.6 1009.7 M1544.8 1048.2L1557.0 1075.3 M1570.4 1111.5L1582.0 1141.0 M1597.0 1176.5L1610.2 1206.0 M1626.5 1242.0L1643.6 1270.7 M1675.3 1298.3L1701.8 1280.0 M1718.7 1243.6L1726.2 1214.4 M1732.7 1177.9L1739.3 1149.0 M1742.9 1112.7L1746.5 1085.5 M1751.0 1047.5L1754.5 1020.5 M1758.9 982.5L1762.9 955.8 M1766.7 916.9L1769.4 890.7 M1774.3 851.8L1777.9 825.6 M1782.8 786.7L1786.4 760.5 M1791.5 721.6L1796.0 695.4 M1800.9 656.5L1805.5 629.4 M1810.9 592.8L1815.0 564.3 M1819.0 526.3L1823.1 497.8 M1827.7 462.0L1832.1 433.6 M1839.4 396.1L1844.3 368.2 M1853 331.5L1869.4 304L1880 302.7L2124 302.6"/>
<path stroke="#f00" stroke-width="8" d="M344.0 316.0L370.7 316.3 M407.7 317.1L435.8 318.5 M472.8 319.9L500.2 322.1 M537.9 322.8L565.3 325.0 M603.0 328.6L630.4 330.5 M667.1 333.0L695.3 337.9 M732.2 342.0L760.4 347.7 M798.0 357.6L826.0 366.3 M863.8 378.8L892.4 391.1 M929.0 409.9L957.5 424.0 M992.2 450.0L1018.0 472.8 M1046.7 506.2L1073.2 522.0 M1101.6 557.8L1120.8 584.0 M1149.2 616.0L1164.9 643.7 M1185.9 676.7L1213.4 686.5 M1239.8 720.9L1259.5 747.0 M1276.2 784.9L1288.8 812.8 M1321.2 833.0L1344.0 856.0 M1372.1 878.7L1384.8 905.8 M1416.0 936.2L1425.5 964.1 M1436.3 1000.7L1445.8 1029.2 M1466.2 1065.8L1474.9 1093.8 M1486.5 1130.0L1500.0 1158.5 M1584.7 1322.8L1617.2 1318.8 M1631.7 1281.7L1641.6 1252.8 M1650.7 1216.6L1657.0 1187.7 M1663.3 1151.5L1669.3 1122.6 M1674.5 1086.3L1678.8 1059.0 M1681.8 1021.1L1684.5 993.5 M1688.0 955.8L1689.8 929.2 M1691.6 890.7L1692.5 864.4 M1695.3 825.6L1696.9 799.3 M1698.3 760.5L1700.1 733.3 M1703.2 695.4L1705.1 667.4 M1706.5 630.8L1708.6 602.3 M1709.2 565.7L1711.9 537.2 M1714.1 500.6L1716.0 472.1 M1717.9 435.5L1720.6 407.0 M1724.0 370.9L1727.7 342.7 M1746.8 308.6L1772.8 303.2 M1810.8 303.0L1838.0 301.9 M1875.9 301.9L1903.0 301.9 M1940.0 301.2L1968.2 301.5 M2007.2 301.0L2033.3 301.0 M2070.2 301.5L2098.4 301.9"/>
<path stroke="#00f" stroke-width="8" d="M344.0 319.4L370.7 319.8 M407.7 321.4L435.8 322.8 M472.8 325.9L500.2 328.0 M537.9 331.4L565.3 333.7 M603.0 339.0L630.4 343.8 M667.1 349.9L695.3 356.1 M732.2 364.7L760.4 372.3 M797.5 383.6L825.5 394.0 M862.8 408.8L891.4 421.2 M927.9 441.0L955.5 457.9 M992.2 483.9L1018.5 508.2 M1043.9 545.0L1068.7 568.3 M1102.2 601.7L1114.1 629.4 M1126.3 666.6L1139.2 694.6 M1162.0 730.9L1176.3 757.9 M1204.0 781.7L1223.0 796.9 M1250.1 777.3L1264.8 805.0 M1281.6 841.5L1294.1 869.5 M1323.0 905.3L1339.5 933.5 M1374.8 979.0L1390.2 1008.9 M1405.2 1044.1L1416.0 1072.6 M1429.6 1110.6L1443.1 1139.1 M1456.3 1174.1L1465.5 1203.5 M1482.0 1239.2L1496.2 1268.5 M1521.4 1304.0L1549.8 1314.2 M1576.5 1280.0L1587.6 1250.8 M1597.2 1214.8L1602.0 1185.6 M1607.0 1149.7L1611.5 1120.0 M1613.5 1084.8L1617.5 1055.0 M1620.8 1019.7L1623.0 990.7 M1625.6 954.0L1627.3 926.8 M1629.3 888.9L1632.0 861.7 M1634.1 823.8L1636.0 796.6 M1638.1 757.8L1640.5 731.5 M1643.2 692.9L1646.0 665.5 M1649.5 628.0L1652.2 600.4 M1654.9 563.0L1659.0 535.3 M1661.7 498.4L1665.8 470.7 M1671.2 432.7L1675.8 405.6 M1681.8 367.7L1698.4 342.0 M1736.0 332.0L1763.2 327.0 M1801.0 318.0L1828.3 313.4 M1866.1 309.2L1893.4 306.5 M1930.2 305.5L1958.5 303.8 M1996.0 304.7L2023.6 303.2 M2060.4 303.0L2088.0 302.8"/>
</g>
<g stroke="#000" stroke-width="3" fill="#000" stroke-linejoin="round">
<path d="M854 762.5H688" fill="none" stroke-linecap="butt"/>
<path d="M649.5 762.5L688.5 752.7V772.3Z" stroke-width="1.5"/>
<path d="M1768 477.2L1940 476.2" fill="none" stroke-linecap="round"/>
<path d="M1977.5 476L1939.5 466.3V485.7Z" stroke-width="1.5"/>
</g>
<g fill="none" stroke-width="9" stroke-linecap="round">
<path stroke="#000" d="M512.4 1095.5H670.4"/>
<path stroke="#f00" d="M512.4 1184.0H670.4"/>
<path stroke="#00f" d="M512.4 1272.4H670.4"/>
</g>
<text class="lg" transform="translate(690.7 1118.7) scale(0.9570 1)">PLA 0 h</text>
<text class="lg" transform="translate(690.7 1207.9) scale(0.9570 1)">PLA 93 h</text>
<text class="lg" transform="translate(690.7 1296.9) scale(0.9570 1)">PLA 160 h</text>
<text class="tk" transform="translate(312.5 1563.5) scale(0.9500 1)" text-anchor="end">0</text>
<text class="tk" transform="translate(312.5 1363.0) scale(0.9500 1)" text-anchor="end">20</text>
<text class="tk" transform="translate(312.5 1162.4) scale(0.9500 1)" text-anchor="end">40</text>
<text class="tk" transform="translate(312.5 961.9) scale(0.9500 1)" text-anchor="end">60</text>
<text class="tk" transform="translate(312.5 761.4) scale(0.9500 1)" text-anchor="end">80</text>
<text class="tk" transform="translate(312.5 560.8) scale(0.9500 1)" text-anchor="end">100</text>
<text class="tk" transform="translate(312.5 360.3) scale(0.9500 1)" text-anchor="end">120</text>
<text class="tk" transform="translate(312.5 159.8) scale(0.9500 1)" text-anchor="end">140</text>
<text class="tk" transform="translate(2158.5 318.8) scale(0.9500 1)" text-anchor="start">0</text>
<text class="tk" transform="translate(2158.5 578.1) scale(0.9500 1)" text-anchor="start">−5</text>
<text class="tk" transform="translate(2158.5 837.4) scale(0.9500 1)" text-anchor="start">−10</text>
<text class="tk" transform="translate(2158.5 1096.7) scale(0.9500 1)" text-anchor="start">−15</text>
<text class="tk" transform="translate(2158.5 1356.1) scale(0.9500 1)" text-anchor="start">−20</text>
<text class="tk" transform="translate(344.5 1630.3) scale(0.9500 1)" text-anchor="middle">200</text>
<text class="tk" transform="translate(790.4 1630.3) scale(0.9500 1)" text-anchor="middle">250</text>
<text class="tk" transform="translate(1236.2 1630.3) scale(0.9500 1)" text-anchor="middle">300</text>
<text class="tk" transform="translate(1682.1 1630.3) scale(0.9500 1)" text-anchor="middle">350</text>
<text class="tk" transform="translate(2128.0 1630.3) scale(0.9500 1)" text-anchor="middle">400</text>
<g clip-path="url(#tc)"><text class="tk" transform="translate(2158.5 59.5) scale(0.9500 1)">5</text></g>
<text class="ti" transform="translate(1237.9 1765.2) scale(0.9736 1)" text-anchor="middle">Temperature (<tspan font-size="56.5" dy="-30.5">o</tspan><tspan dy="30.5">C)</tspan></text>
<text class="ti" transform="translate(106.0 784.0) rotate(-90) scale(1.0130 1)" text-anchor="middle">Weight (%)</text>
<text class="ti" transform="translate(2358.5 894.5) rotate(-90) scale(0.9910 1)" text-anchor="middle">dw/dt (%/°C)</text>
</svg></body></html>
